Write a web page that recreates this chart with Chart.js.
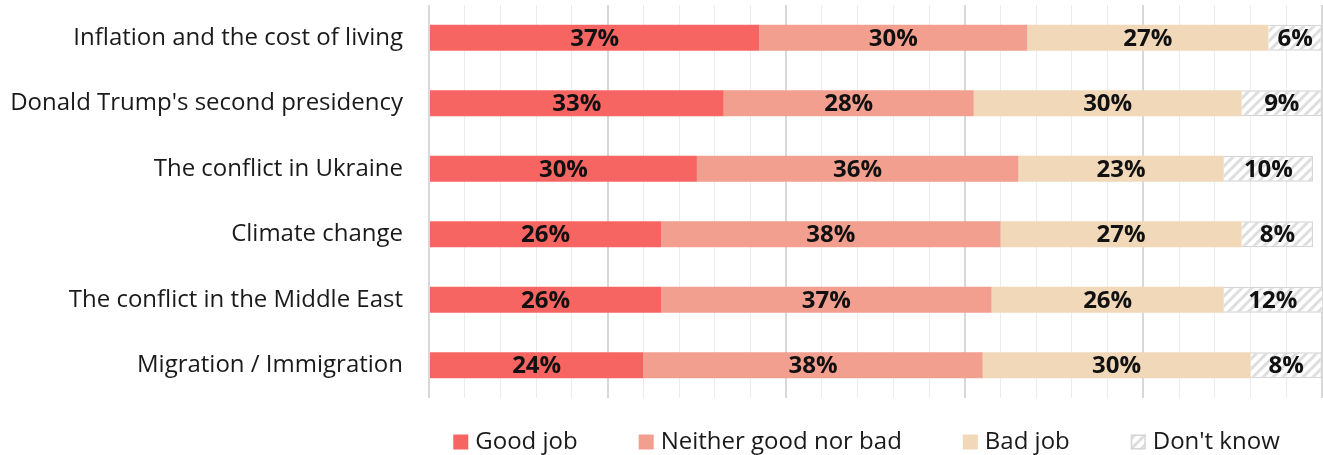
<!DOCTYPE html>
<html>
<head>
<meta charset="utf-8">
<script src="https://cdn.jsdelivr.net/npm/chart.js@4.4.1/dist/chart.umd.min.js"></script>
<style>
  html, body { margin: 0; padding: 0; background: #fff; }
  #wrap { width: 1323px; height: 455px; position: relative; }
</style>
</head>
<body>
<div id="wrap"><canvas id="chart"></canvas></div>
<script>
// Survey topics and answer shares (%)
const categories = [
  'Inflation and the cost of living',
  "Donald Trump's second presidency",
  'The conflict in Ukraine',
  'Climate change',
  'The conflict in the Middle East',
  'Migration / Immigration'
];
const goodJob  = [37, 33, 30, 26, 26, 24];
const neither  = [30, 28, 36, 38, 37, 38];
const badJob   = [27, 30, 23, 27, 26, 30];
const dontKnow = [6, 9, 10, 8, 12, 8];
const seriesNames = ['Good job', 'Neither good nor bad', 'Bad job', "Don't know"];

const FONT = '"Open Sans", "Noto Sans", sans-serif';

// Light diagonal hatching for the "Don't know" share
function makeHatch() {
  const s = 10;
  const c = document.createElement('canvas');
  c.width = s; c.height = s;
  const g = c.getContext('2d');
  g.fillStyle = '#ffffff';
  g.fillRect(0, 0, s, s);
  g.strokeStyle = '#dedede';
  g.lineWidth = 3;
  g.beginPath();
  g.moveTo(-1, s + 1); g.lineTo(s + 1, -1);
  g.moveTo(-s / 2 - 1, s / 2 + 1); g.lineTo(s / 2 + 1, -s / 2 - 1);
  g.moveTo(s / 2 - 1, s * 1.5 + 1); g.lineTo(s * 1.5 + 1, s / 2 - 1);
  g.stroke();
  return g.createPattern(c, 'repeat');
}
const hatch = makeHatch();

// Percentage printed in the middle of each segment
const barLabels = {
  id: 'barLabels',
  afterDatasetsDraw(chart) {
    const ctx = chart.ctx;
    ctx.save();
    ctx.font = 'bold 24px ' + FONT;
    ctx.fillStyle = '#111111';
    ctx.textAlign = 'center';
    ctx.textBaseline = 'middle';
    const right = chart.chartArea.right;
    chart.data.datasets.forEach((ds, i) => {
      const meta = chart.getDatasetMeta(i);
      meta.data.forEach((bar, j) => {
        const x0 = Math.min(bar.base, right), x1 = Math.min(bar.x, right);
        ctx.fillText(ds.data[j] + '%', (x0 + x1) / 2, bar.y + 1);
      });
    });
    ctx.restore();
  }
};

// Legend row under the plot area
const bottomLegend = {
  id: 'bottomLegend',
  afterDraw(chart) {
    const ctx = chart.ctx;
    const area = chart.chartArea;
    const box = 15, gapText = 7, gapItem = 61, cy = 442;
    ctx.save();
    ctx.font = '24px ' + FONT;
    const items = chart.data.datasets.map(ds => ({
      text: ds.label, fill: ds.backgroundColor, border: ds.borderColor, bw: ds.borderWidth,
      w: box + gapText + ctx.measureText(ds.label).width
    }));
    const total = items.reduce((a, it) => a + it.w, 0) + gapItem * (items.length - 1);
    let x = (area.left + area.right) / 2 - 9 - total / 2;
    ctx.textBaseline = 'middle';
    ctx.textAlign = 'left';
    items.forEach(it => {
      ctx.fillStyle = it.fill;
      ctx.fillRect(x, cy - box / 2, box, box);
      if (it.bw) {
        ctx.strokeStyle = it.border;
        ctx.lineWidth = 1.5;
        ctx.strokeRect(x + 0.75, cy - box / 2 + 0.75, box - 1.5, box - 1.5);
      }
      ctx.fillStyle = '#1a1a1a';
      ctx.fillText(it.text, x + box + gapText, cy);
      x += it.w + gapItem;
    });
    ctx.restore();
  }
};

new Chart(document.getElementById('chart'), {
  type: 'bar',
  data: {
    labels: categories,
    datasets: [
      { label: seriesNames[0], data: goodJob,  backgroundColor: '#f76563', borderWidth: 0 },
      { label: seriesNames[1], data: neither,  backgroundColor: '#f29f90', borderWidth: 0 },
      { label: seriesNames[2], data: badJob,   backgroundColor: '#f0d8b8', borderWidth: 0 },
      { label: seriesNames[3], data: dontKnow, backgroundColor: hatch, borderColor: '#d6d6d6', borderWidth: 1.5 }
    ]
  },
  options: {
    indexAxis: 'y',
    responsive: true,
    maintainAspectRatio: false,
    animation: false,
    layout: { padding: { top: 5, right: 1, bottom: 57, left: 0 } },
    datasets: { bar: { categoryPercentage: 0.8, barPercentage: 0.5 } },
    plugins: { legend: { display: false }, tooltip: { enabled: false } },
    scales: {
      x: {
        stacked: true,
        min: 0,
        max: 100,
        ticks: { display: false, stepSize: 4 },
        grid: {
          drawTicks: false,
          color: c => (c.tick && c.tick.value % 20 === 0) ? '#d8d8d8' : '#ececec',
          lineWidth: c => (c.tick && c.tick.value % 20 === 0) ? 2 : 1
        },
        border: { display: false }
      },
      y: {
        stacked: true,
        grid: { display: false, drawTicks: false },
        border: { display: false },
        ticks: { color: '#1a1a1a', font: { family: FONT, size: 24 }, padding: 26 },
        afterFit(scale) {
          scale.width = 429;
          scale.paddingTop = 0;
          scale.paddingBottom = 0;
        }
      }
    }
  },
  plugins: [barLabels, bottomLegend]
});
</script>
</body>
</html>
